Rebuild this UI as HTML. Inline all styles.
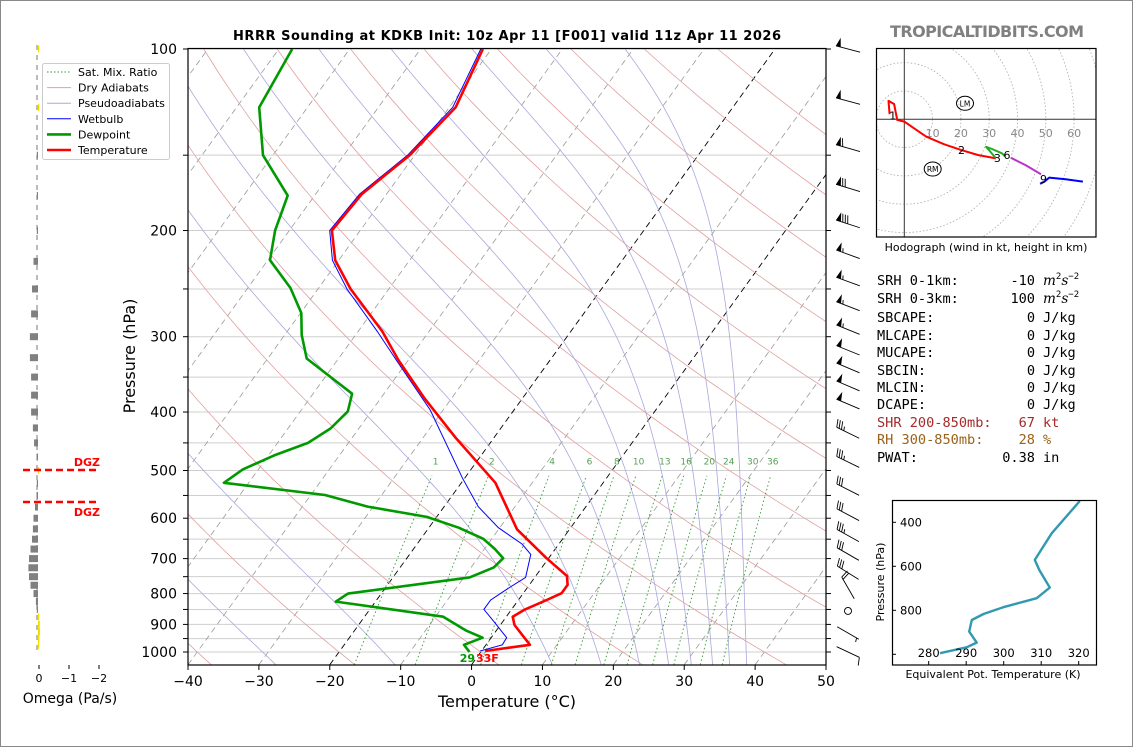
<!DOCTYPE html>
<html><head><meta charset="utf-8"><title>HRRR Sounding KDKB</title>
<style>
html,body{margin:0;padding:0;background:#fff;}
svg{display:block;font-family:"DejaVu Sans","Liberation Sans",sans-serif;}
</style></head>
<body>
<svg id="fig" width="1134" height="748" viewBox="0 0 1134 748" xmlns="http://www.w3.org/2000/svg">
<defs>
<clipPath id="mainclip"><rect x="188" y="49" width="638" height="616"/></clipPath>
<clipPath id="hodoclip"><rect x="877" y="49" width="219" height="188"/></clipPath>
<clipPath id="thclip"><rect x="892" y="500" width="205" height="165"/></clipPath>
</defs>
<rect x="0.5" y="0.5" width="1132" height="746" fill="#fff" stroke="#888"/>
<text x="507" y="40" text-anchor="middle" font-weight="bold" font-size="13" textLength="548">HRRR Sounding at KDKB Init: 10z Apr 11 [F001] valid 11z Apr 11 2026</text>
<text x="987" y="37" text-anchor="middle" font-weight="bold" font-size="16" fill="#808080" textLength="194">TROPICALTIDBITS.COM</text>
<g id="bg" clip-path="url(#mainclip)"></g>
<g id="series" clip-path="url(#mainclip)"></g>
<g id="axes"></g>
<g id="barbs"></g>
<g id="omega"></g>
<g id="legend"></g>
<g id="hodo"></g>
<g id="stats" font-family="DejaVu Sans Mono, Liberation Mono, monospace" font-size="13.6"></g>
<g id="theta"></g>
</svg>
<script>
// ---------- DATA ----------
const tempP = [100,125,150,174,200,224,250,294,328,379,442,524,626,699,748,774,799,820,850,874,902,973,996];
const tempC = [-61.2,-59.1,-60.7,-63.5,-64.0,-60.5,-55.4,-46.6,-41.4,-33.9,-25.3,-15.2,-7.4,-0.3,4.4,5.4,5.4,4.0,1.9,0.9,2.0,6.2,0.5];
const dewP = [100,125,150,175,200,224,249,274,298,326,373,399,426,450,472,498,524,549,574,597,622,649,675,699,724,752,800,825,874,922,947,973,1000];
const dewC = [-88.1,-86.8,-81.4,-73.8,-72,-69.7,-64,-59.9,-57.6,-54.5,-44.5,-43.3,-44.0,-45.7,-49.2,-52.2,-53.5,-38.0,-30.8,-21.4,-15.8,-11.2,-8.5,-6.4,-6.8,-9.2,-24.7,-25.6,-8.9,-4.2,-1.2,-3.1,-1.6];
const wbP = [100,125,150,174,200,224,250,294,328,397,515,574,622,662,689,752,786,820,850,888,947,973,996];
const wbC = [-61.5,-59.5,-61.0,-63.8,-64.3,-60.9,-55.9,-47.3,-41.7,-31.8,-20.3,-15.2,-10.2,-5.2,-2.9,-1.3,-2.7,-3.9,-3.9,-1.4,2.2,2.3,-0.2];
const xTicks = [-40,-30,-20,-10,0,10,20,30,40,50];
const yTickLabels = [100,200,300,400,500,600,700,800,900,1000];
const yGridP = [100,150,200,250,300,350,400,450,500,550,600,650,700,750,800,850,900,950,1000];
const mixRatios = [1,2,4,6,8,10,13,16,20,24,30,36];
const dryTheta0 = [-80,-60,-40,-20,0,20,40,60,80,100,120,140,160,180,200];
const moistT0 = [-60,-45,-27.6,-10.8,11.4,18.3,23.7,27.8,31,34,36.4,38.8];
const barbP = [100,122,146,170,195,219,243,267,292,316,338,362,388,433,484,538,592,641,688,739,783,855,930,1000];
const barbSpd = [50,50,60,70,80,55,55,55,55,50,50,50,50,35,35,30,30,35,30,30,20,0,5,10];
const barbDir = [285,285,286,287,288,290,290,291,292,292,293,293,293,296,296,297,298,299,300,302,330,0,120,115];
const omegaP = [100,125,150,175,200,225,250,275,300,325,350,375,400,425,450,475,500,525,550,575,600,625,650,675,700,725,750,775,800,825,850,875,900,925,950,975];
const omegaV = [-0.01,-0.01,0.03,0.03,0.03,0.15,0.2,0.23,0.27,0.27,0.23,0.23,0.23,0.17,0.13,0.05,-0.02,0.01,0.05,0.1,0.15,0.17,0.2,0.25,0.3,0.32,0.3,0.25,0.15,0.07,0.03,-0.03,-0.06,-0.07,-0.05,-0.02];
const omegaTicks = [0,-1,-2];
const hodoRedU = [-5.2,-5.6,-3.6,-2.9,-2.5,0,7.7,14,20,26,32.4];
const hodoRedV = [1.8,6.5,5.4,1.8,-0.2,-0.8,-6.1,-8.8,-10.8,-12.6,-13.8];
const hodoGreenU = [32.4,30,28.9,31,34.5,35.5];
const hodoGreenV = [-13.8,-11,-9.7,-10.5,-12,-13];
const hodoPurpleU = [37.7,43,48.3];
const hodoPurpleV = [-13.6,-16.3,-19.4];
const hodoBlueU = [48,49.5,51.2,57,63.1];
const hodoBlueV = [-22.8,-22,-20.6,-21.2,-22];
const hodoLabels = ['1','2','3','6','9'];
const hodoLabelU = [-4.1,20.2,32.9,36.3,49.2];
const hodoLabelV = [1.3,-10.9,-13.6,-12.6,-21.1];
const hodoRings = [10,20,30,40,50,60,70,80];
const thetaP = [303,450,571,617,697,745,786,817,844,897,947,968,995];
const thetaK = [320.3,312.8,308.3,309.5,312.3,308.8,299.9,294.6,291.5,290.8,292.8,290.1,283];
const thetaXTicks = [280,290,300,310,320];
const thetaYTicks = [400,600,800,1000];

// ---------- helpers ----------
const NS='http://www.w3.org/2000/svg';
function mk(tag, attrs, parent){const e=document.createElementNS(NS,tag);for(const k in attrs)e.setAttribute(k,attrs[k]);if(parent)parent.appendChild(e);return e;}
const X0=188, XW=638, Y0=49, PY=603, YB=664.8, SKEW=0.723;
function yP(p){return Y0+(Math.log10(p)-2)*PY;}
function xT(t,p){return X0+(t+40)*XW/90+(YB-yP(p))*SKEW;}
function pathFrom(ts,ps){let d='';for(let i=0;i<ts.length;i++){d+=(i?'L':'M')+xT(ts[i],ps[i]).toFixed(1)+','+yP(ps[i]).toFixed(1);}return d;}
function es(tc){return 6.112*Math.exp(17.67*tc/(tc+243.5));}

const bg=document.getElementById('bg'), series=document.getElementById('series'), axes=document.getElementById('axes');

for(const p of yGridP){
  const l=mk('line',{x1:188,x2:826,y1:yP(p),y2:yP(p),stroke:'#cfcfcf','stroke-width':1},bg);
  
  
}
for(let t=-140;t<=50;t+=10){
  const black=(t===-20||t===0);
  const l=mk('line',{x1:xT(t,1050),y1:yP(1050),x2:xT(t,100),y2:yP(100),stroke:black?'#000':'#9a9a9a','stroke-width':black?0.9:0.8,'stroke-dasharray':'6,4'},bg);
  
  
}
for(const th of dryTheta0){
  const ts=[],ps=[];
  for(let p=1050;p>=100;p-=10){ps.push(p);ts.push((th+273.15)*Math.pow(p/1000,0.2857)-273.15);}
  const l=mk('path',{d:pathFrom(ts,ps),fill:'none',stroke:'#e0a0a0','stroke-width':0.8},bg);
  
  
}
for(const t0 of moistT0){
  let T=t0+273.15;const ts=[t0],ps=[1050];
  const f=(T,p)=>{const e=es(T-273.15);const rs=0.622*e/(p-e);return (287.04*T+2.501e6*rs)/(p*(1005.7+2.501e6*2.501e6*rs*0.622/(287.04*T*T)));};
  for(let p=1050;p>100;p-=5){const k1=f(T,p);const k2=f(T-2.5*k1,p-2.5);T-=5*k2;ps.push(p-5);ts.push(T-273.15);}
  const l=mk('path',{d:pathFrom(ts,ps),fill:'none',stroke:'#a8a8dd','stroke-width':0.8},bg);
  
  
}
for(const w of mixRatios){
  const ts=[],ps=[];
  for(let p=1050;p>=505;p-=15){const e=w*p/(622+w);const a=Math.log(e/6.112);ps.push(p);ts.push(243.5*a/(17.67-a));}
  const l=mk('path',{d:pathFrom(ts,ps),fill:'none',stroke:'#339933','stroke-width':0.9,'stroke-dasharray':'1.5,2.5'},bg);
  
  
  const e=w*490/(622+w);const a=Math.log(e/6.112);const tl=243.5*a/(17.67-a);
  const tx=mk('text',{x:xT(tl,492),y:yP(492)-2,'text-anchor':'middle','font-size':9,fill:'#55a055'},axes);
  tx.textContent=w;
  
  
}
const wb=mk('path',{d:pathFrom(wbC,wbP),fill:'none',stroke:'#0000ff','stroke-width':1},series);


const dw=mk('path',{d:pathFrom(dewC,dewP),fill:'none',stroke:'#009a00','stroke-width':2.6,'stroke-linejoin':'round'},series);


const tp=mk('path',{d:pathFrom(tempC,tempP),fill:'none',stroke:'#ff0000','stroke-width':2.6,'stroke-linejoin':'round'},series);


const sfD=mk('text',{x:475,y:662,'text-anchor':'end','font-size':11,'font-weight':'bold',fill:'#009a00'},axes);
sfD.textContent='29';


const sfT=mk('text',{x:476,y:662,'font-size':11,'font-weight':'bold',fill:'#ff0000'},axes);
sfT.textContent='33F';



const fr=mk('rect',{x:188,y:48.5,width:638,height:616.5,fill:'none',stroke:'#000','stroke-width':1.2},axes);


for(const t of xTicks){
  const x=X0+(t+40)*XW/90;
  const tk=mk('line',{x1:x,x2:x,y1:665,y2:670,stroke:'#000'},axes);
  
  
  const tx=mk('text',{x:x,y:686,'text-anchor':'middle','font-size':14},axes);
  tx.textContent=(t<0?'\u2212'+(-t):String(t));
  
  
}
for(const p of yGridP){
  const tk=mk('line',{x1:183,x2:188,y1:yP(p),y2:yP(p),stroke:'#000'},axes);
  
  
  const tk2=mk('line',{x1:826,x2:831,y1:yP(p),y2:yP(p),stroke:'#000'},axes);
  
  
}
for(const p of yTickLabels){
  const tx=mk('text',{x:177,y:yP(p)+5,'text-anchor':'end','font-size':14},axes);
  tx.textContent=p;
  
  
}
const xl=mk('text',{x:507,y:707,'text-anchor':'middle','font-size':16},axes);
xl.textContent='Temperature (\u00b0C)';


const yl=mk('text',{x:0,y:0,'text-anchor':'middle','font-size':16,transform:'translate(135,356) rotate(-90)'},axes);
yl.textContent='Pressure (hPa)';



const barbs=document.getElementById('barbs');
for(let i=0;i<barbP.length;i++){
  const y=yP(barbP[i]), cx=848, spd=barbSpd[i];
  const g=mk('g',{},barbs);
  
  
  if(spd<2.5){
    mk('circle',{cx:cx,cy:y,r:3.5,fill:'none',stroke:'#000','stroke-width':0.9},g);continue;
  }
  const r=barbDir[i]*Math.PI/180;const dx=Math.sin(r),dy=-Math.cos(r);const nx=-dy,ny=dx;
  const L=25;const tipx=cx+dx*L/2,tipy=y+dy*L/2;const tx=cx-dx*L/2,ty=y-dy*L/2;
  mk('line',{x1:tx,y1:ty,x2:tipx,y2:tipy,stroke:'#000','stroke-width':0.9},g);
  let s=Math.round(spd/5)*5;let off=0;
  while(s>=50){
    const ax=tipx-dx*off,ay=tipy-dy*off;const bx=tipx-dx*(off+5),by=tipy-dy*(off+5);
    mk('polygon',{points:`${ax},${ay} ${bx},${by} ${ax-dx*2.5+nx*9},${ay-dy*2.5+ny*9}`,fill:'#000'},g);
    off+=6;s-=50;
  }
  if(off>0)off+=1;
  while(s>=10){
    const ax=tipx-dx*off,ay=tipy-dy*off;
    mk('line',{x1:ax,y1:ay,x2:ax+dx*2.5+nx*8,y2:ay+dy*2.5+ny*8,stroke:'#000','stroke-width':0.9},g);
    off+=2.6;s-=10;
  }
  if(s>=5){
    if(off===0)off=2.6;
    const ax=tipx-dx*off,ay=tipy-dy*off;
    mk('line',{x1:ax,y1:ay,x2:ax+dx*1.2+nx*4,y2:ay+dy*1.2+ny*4,stroke:'#000','stroke-width':0.9},g);
  }
}

const om=document.getElementById('omega');
const OX=38, OS=30;
const zl=mk('line',{x1:OX-1,x2:OX-1,y1:45,y2:655,stroke:'#777','stroke-dasharray':'5,5','stroke-width':1},om);


for(let i=0;i<omegaP.length;i++){
  const v=omegaV[i];const y=yP(omegaP[i]);const w=Math.max(Math.abs(v)*OS,1.2);
  const x=v>=0?OX-w:OX;
  const b=mk('rect',{x:x,y:y-3.5,width:w,height:7,fill:v>=0?'#808080':'#f0e000'},om);
  
  
}
for(const t of omegaTicks){
  const x=OX+1-t*OS;
  const tk=mk('line',{x1:x,x2:x,y1:665,y2:669,stroke:'#000'},om);
  
  
  const tx=mk('text',{x:x,y:682,'text-anchor':'middle','font-size':11},om);
  tx.textContent=(t<0?'\u2212'+(-t):String(t));
  
  
}
const ot=mk('text',{x:70,y:703,'text-anchor':'middle','font-size':14},om);
ot.textContent='Omega (Pa/s)';


for(const yy of [470,502]){
  const dl=mk('line',{x1:23,x2:99,y1:yy,y2:yy,stroke:'#ff0000','stroke-width':2.4,'stroke-dasharray':'7,4'},om);
  
  
}
const d1=mk('text',{x:100,y:466,'text-anchor':'end','font-size':11,'font-weight':'bold',fill:'#ff0000'},om);
d1.textContent='DGZ';


const d2=mk('text',{x:100,y:516,'text-anchor':'end','font-size':11,'font-weight':'bold',fill:'#ff0000'},om);
d2.textContent='DGZ';



const lg=document.getElementById('legend');
mk('rect',{x:42.5,y:63.5,width:127,height:96,rx:2,fill:'#fff','fill-opacity':0.9,stroke:'#ccc'},lg);
const legItems=[['Sat. Mix. Ratio','#339933',0.9,'1.5,2'],['Dry Adiabats','#e0a0a0',1,''],['Pseudoadiabats','#a8a8dd',1,''],['Wetbulb','#0000ff',1,''],['Dewpoint','#009a00',2.6,''],['Temperature','#ff0000',2.6,'']];
legItems.forEach((it,i)=>{
  const y=72+i*15.6;
  const g=mk('g',{},lg);
  
  
  const a={x1:47,x2:71,y1:y,y2:y,stroke:it[1],'stroke-width':it[2]};if(it[3])a['stroke-dasharray']=it[3];
  mk('line',a,g);
  const t=mk('text',{x:78,y:y+4,'font-size':11},g);t.textContent=it[0];
});

const hd=document.getElementById('hodo');
const HX=904.3,HY=119.3,HS=2.83;
const hin=mk('g',{'clip-path':'url(#hodoclip)'},hd);
for(const r of hodoRings){
  const c=mk('circle',{cx:HX,cy:HY,r:r*HS,fill:'none',stroke:'#aaa','stroke-width':0.8,'stroke-dasharray':'1.5,2'},hin);
  
  
}
mk('line',{x1:877,x2:1096,y1:HY,y2:HY,stroke:'#333','stroke-width':1},hin);
mk('line',{x1:HX,x2:HX,y1:49,y2:237,stroke:'#333','stroke-width':1},hin);
for(const r of [10,20,30,40,50,60]){
  const t=mk('text',{x:HX+r*HS,y:137,'text-anchor':'middle','font-size':11,fill:'#888'},hin);
  t.textContent=r;
  
  
}
function hpath(us,vs){let d='';for(let i=0;i<us.length;i++)d+=(i?'L':'M')+(HX+us[i]*HS).toFixed(1)+','+(HY-vs[i]*HS).toFixed(1);return d;}
[[hodoRedU,hodoRedV,'#ff0000','hodograph-0-3km'],[hodoGreenU,hodoGreenV,'#22aa22','hodograph-3-6km'],[hodoPurpleU,hodoPurpleV,'#bb33cc','hodograph-6-9km'],[hodoBlueU,hodoBlueV,'#0000ff','hodograph-9km-plus']].forEach(s=>{
  const p=mk('path',{d:hpath(s[0],s[1]),fill:'none',stroke:s[2],'stroke-width':2,'stroke-linejoin':'round'},hin);
  
  
});
hodoLabels.forEach((l,i)=>{
  const t=mk('text',{x:HX+hodoLabelU[i]*HS,y:HY-hodoLabelV[i]*HS+4,'text-anchor':'middle','font-size':11},hin);
  t.textContent=l;
  
  
});
[['LM',965,103.3],['RM',932.7,169]].forEach(m=>{
  const g=mk('g',{},hin);
  
  
  mk('ellipse',{cx:m[1],cy:m[2],rx:8.5,ry:7,fill:'none',stroke:'#000','stroke-width':1},g);
  const t=mk('text',{x:m[1],y:m[2]+3,'text-anchor':'middle','font-size':7.5},g);t.textContent=m[0];
});
const hf=mk('rect',{x:876.5,y:48.5,width:219.5,height:188.5,fill:'none',stroke:'#000','stroke-width':1.2},hd);


const hc=mk('text',{x:986,y:251,'text-anchor':'middle','font-size':11},hd);
hc.textContent='Hodograph (wind in kt, height in km)';



const st=document.getElementById('stats');
const rows=[
 ['SRH 0-1km:','-10','m2','#000',285],['SRH 0-3km:','100','m2','#000',303],
 ['SBCAPE:','0','J/kg','#000',322],['MLCAPE:','0','J/kg','#000',340],['MUCAPE:','0','J/kg','#000',357],
 ['SBCIN:','0','J/kg','#000',375],['MLCIN:','0','J/kg','#000',392],['DCAPE:','0','J/kg','#000',409],
 ['SHR 200-850mb:','67','kt','#a52a2a',427],['RH 300-850mb:','28','%','#9a6218',444],['PWAT:','0.38','in','#000',462]];
rows.forEach(r=>{
  const g=mk('g',{fill:r[3]},st);
  
  
  const a=mk('text',{x:877,y:r[4]},g);a.textContent=r[0];
  const b=mk('text',{x:1035,y:r[4],'text-anchor':'end'},g);b.textContent=r[1];
  const c=mk('text',{x:1043,y:r[4]},g);
  if(r[2]==='m2'){c.innerHTML='<tspan font-style="italic" font-family="DejaVu Serif, serif">m</tspan><tspan font-size="9" dy="-6">2</tspan><tspan font-style="italic" font-family="DejaVu Serif, serif" dy="6">s</tspan><tspan font-size="9" dy="-6">\u22122</tspan>';}
  else c.textContent=r[2];
});

const th=document.getElementById('theta');
const TX0=928.7,TXS=3.75,TY400=522.3,TYS=0.22;
function tX(k){return TX0+(k-280)*TXS;}
function tY(p){return TY400+(p-400)*TYS;}
let d='';for(let i=0;i<thetaP.length;i++)d+=(i?'L':'M')+tX(thetaK[i]).toFixed(1)+','+tY(thetaP[i]).toFixed(1);
const thin=mk('g',{'clip-path':'url(#thclip)'},th);
const tl=mk('path',{d:d,fill:'none',stroke:'#3399b0','stroke-width':2.4,'stroke-linejoin':'round'},thin);


const tf=mk('rect',{x:892.5,y:500.5,width:204,height:164.5,fill:'none',stroke:'#000','stroke-width':1.2},th);


for(const k of thetaXTicks){
  const tk=mk('line',{x1:tX(k),x2:tX(k),y1:665,y2:661,stroke:'#000'},th);
  
  
  const t=mk('text',{x:tX(k),y:657,'text-anchor':'middle','font-size':11.5},th);
  t.textContent=k;
  
  
}
for(const p of thetaYTicks){
  const tk=mk('line',{x1:892,x2:896,y1:tY(p),y2:tY(p),stroke:'#000'},th);
  
  
  if(p<1000){
    const t=mk('text',{x:922,y:tY(p)+4,'text-anchor':'end','font-size':11.5},th);
    t.textContent=p;
    
    
  }
}
const txl=mk('text',{x:993,y:678,'text-anchor':'middle','font-size':11},th);
txl.textContent='Equivalent Pot. Temperature (K)';


const tyl=mk('text',{x:0,y:0,'text-anchor':'middle','font-size':11,transform:'translate(884,582) rotate(-90)'},th);
tyl.textContent='Pressure (hPa)';


</script>
</body></html>
